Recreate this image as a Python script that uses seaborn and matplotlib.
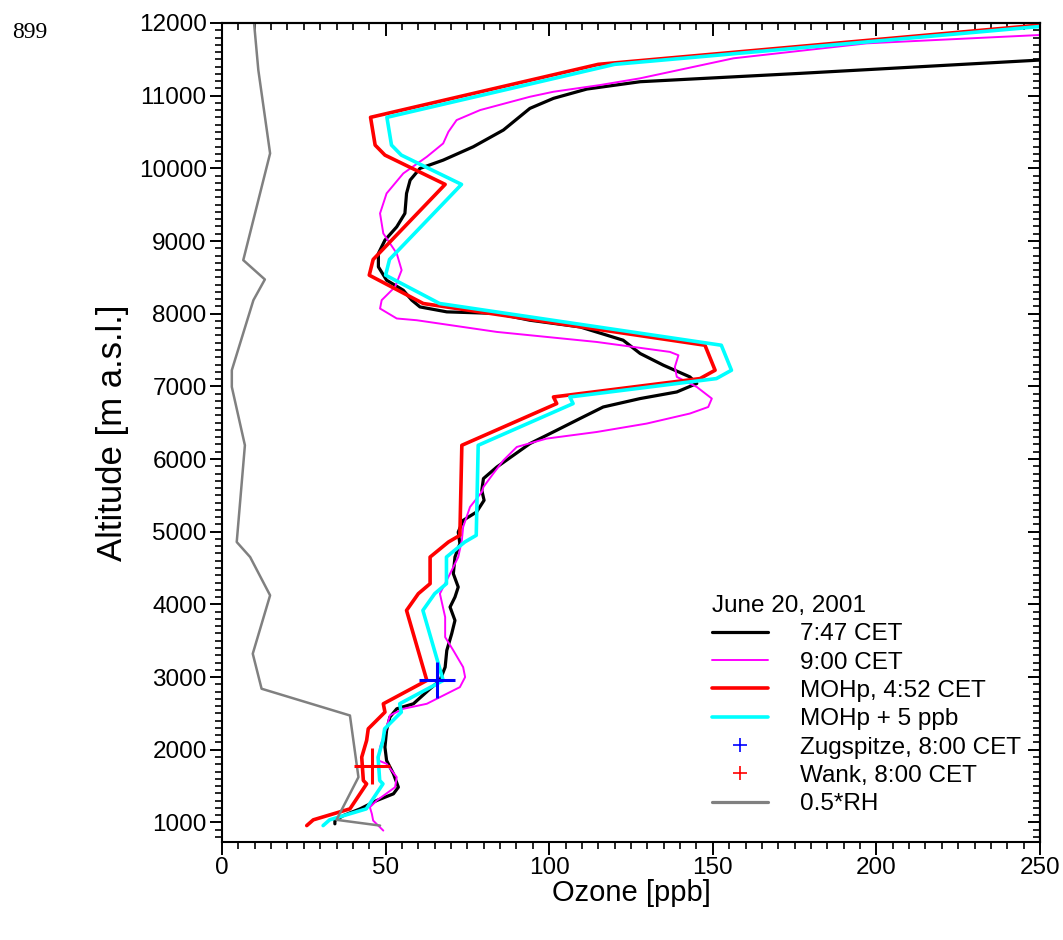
import numpy as np
import pandas as pd
import matplotlib
matplotlib.use("Agg")
import matplotlib.pyplot as plt
from matplotlib.lines import Line2D
from matplotlib.ticker import MultipleLocator, NullFormatter
import seaborn as sns

# ---- ozone soundings, June 20, 2001 (ozone in ppb, altitude in m a.s.l.) ----
sonde_0747_o3 = [34.5, 34.5, 37.1, 42.2, 47.3, 52.4, 53.9, 52.4, 50.3, 49.8, 50.3, 51.3,
                 53.4, 58.5, 63.6, 66.6, 68.2, 68.7, 70.2, 71.2, 69.7, 71.2, 72.2, 70.7,
                 71.2, 72.7, 72.2, 73.7, 77.8, 80.1, 79.4, 79.9, 84.0, 94.1, 102.3, 109.4,
                 116.5, 127.8, 139.0, 145.1, 143.0, 134.9, 127.8, 122.6, 109.4, 94.1, 84.0,
                 68.7, 60.5, 58.0, 55.4, 50.3, 47.8, 47.8, 49.8, 53.4, 55.9, 56.4, 57.5,
                 60.5, 67.6, 76.8, 86.0, 94.1, 101.3, 111.5, 127.8, 176.7, 250.0]
sonde_0747_alt = [980, 1025, 1094, 1186, 1301, 1393, 1484, 1668, 1852, 2035, 2265, 2448,
                  2563, 2632, 2839, 2953, 3136, 3366, 3596, 3779, 3963, 4100, 4238, 4422,
                  4651, 4835, 4995, 5156, 5271, 5432, 5569, 5731, 5890, 6212, 6396, 6557,
                  6716, 6832, 6923, 7039, 7130, 7291, 7452, 7635, 7818, 7910, 8003,
                  8025, 8093, 8186, 8323, 8461, 8644, 8829, 9012, 9195, 9380, 9655, 9838,
                  9999, 10113, 10297, 10527, 10825, 10963, 11091, 11192, 11307, 11490]

sonde_0900_o3 = [49.3, 46.2, 45.8, 45.2, 47.3, 52.9, 53.4, 50.3, 47.8, 48.3, 50.3, 51.3,
                 55.4, 62.6, 66.6, 72.7, 74.3, 73.7, 70.7, 68.2, 68.2, 66.6, 69.7, 72.2,
                 73.3, 73.7, 75.8, 79.4, 79.9, 82.9, 86.0, 90.1, 99.2, 114.5, 129.8, 143.0,
                 148.6, 149.7, 145.1, 139.0, 138.4, 139.5, 136.9, 114.5, 84.0, 59.5, 53.4,
                 48.3, 48.8, 52.9, 54.9, 53.4, 49.3, 48.3, 50.3, 55.4, 62.6, 67.6, 69.2,
                 71.7, 78.9, 94.1, 101.3, 115.5, 127.8, 156.3, 197.0, 250.0]
sonde_0900_alt = [887, 1025, 1117, 1209, 1301, 1484, 1622, 1806, 1852, 2035, 2310, 2471,
                  2563, 2632, 2723, 2861, 2999, 3136, 3366, 3549, 3825, 4147, 4422, 4651,
                  4881, 5064, 5340, 5546, 5615, 5799, 5982, 6166, 6281, 6372, 6488, 6626,
                  6716, 6832, 6992, 7130, 7267, 7428, 7474, 7611, 7749, 7910, 7934,
                  8071, 8186, 8369, 8599, 8829, 9104, 9380, 9655, 9930, 10159, 10343, 10503,
                  10664, 10802, 10985, 11054, 11146, 11239, 11514, 11720, 11835]

# ---- MOHp profile, 4:52 CET ----
mohp_o3 = [25.9, 27.9, 39.1, 44.2, 43.2, 42.7, 44.2, 44.7, 49.8, 49.3, 62.6, 56.4,
           60.0, 63.6, 63.6, 69.2, 72.7, 73.3, 102.3, 101.3, 146.1, 150.7, 147.6, 61.5,
           45.0, 46.2, 68.2, 49.8, 46.8, 45.4, 115.0, 250.0]
mohp_alt = [956, 1035, 1186, 1530, 1576, 1897, 2127, 2288, 2517, 2632, 2953, 3917,
            4147, 4285, 4651, 4858, 4950, 6189, 6763, 6854, 7107, 7222, 7566, 8140,
            8530, 8746, 9779, 10182, 10320, 10702, 11431, 11972]
mohp_offset_ppb = 5

# ---- relative humidity (scaled by 0.5) ----
rh_half = [48.3, 35.0, 41.7, 39.1, 12.1, 9.4, 14.7, 8.6, 4.5, 7.0, 3.0, 3.0,
           9.6, 13.1, 6.5, 14.7, 11.1, 9.8]
rh_alt = [956, 1035, 1622, 2471, 2839, 3321, 4124, 4651, 4858, 6189, 6992, 7222,
          8186, 8471, 8737, 10206, 11353, 12000]

# ---- mountain station observations at 8:00 CET ----
zugspitze_o3, zugspitze_alt = [65.6], [2962]
wank_o3, wank_alt = [45.7], [1780]

legend_title = "June 20, 2001"
labels = ["7:47 CET", "9:00 CET", "MOHp, 4:52 CET", "MOHp + 5 ppb",
          "Zugspitze, 8:00 CET", "Wank, 8:00 CET", "0.5*RH"]

# ---------------------------------------------------------------------------
sns.set_theme(style="ticks")
plt.rcParams["font.family"] = ["Liberation Sans", "DejaVu Sans"]
plt.rcParams["text.color"] = "black"
plt.rcParams["axes.labelcolor"] = "black"
plt.rcParams["xtick.color"] = "black"
plt.rcParams["ytick.color"] = "black"

fig = plt.figure(figsize=(10.63, 9.4), dpi=100)
ax = fig.add_axes([222 / 1063, 1 - 842 / 940, 818 / 1063, 819 / 940])

mohp_plus = [v + mohp_offset_ppb for v in mohp_o3]

def profile(xs, ys, color, lw):
    df = pd.DataFrame({"o3": xs, "alt": ys})
    sns.lineplot(data=df, x="o3", y="alt", sort=False, estimator=None,
                 color=color, linewidth=lw, ax=ax)

profile(sonde_0747_o3, sonde_0747_alt, "#000000", 2.3)
profile(sonde_0900_o3, sonde_0900_alt, "#ff00ff", 1.4)
profile(mohp_o3, mohp_alt, "#ff0000", 2.6)
profile(mohp_plus, mohp_alt, "#00ffff", 2.6)

sns.scatterplot(x=zugspitze_o3, y=zugspitze_alt, marker="+", s=700,
                color="#0000ff", linewidth=2.2, ax=ax, zorder=5)
sns.scatterplot(x=wank_o3, y=wank_alt, marker="+", s=700,
                color="#ff0000", linewidth=2.2, ax=ax, zorder=5)

profile(rh_half, rh_alt, "#808080", 1.8)

ax.set_xlim(0, 250)
ax.set_ylim(730, 12000)

ax.xaxis.set_major_locator(MultipleLocator(50))
ax.xaxis.set_minor_locator(MultipleLocator(5))
ax.set_yticks(np.arange(1000, 12001, 1000))
ax.yaxis.set_minor_locator(MultipleLocator(100))

tick_fs = 17.5
ax.tick_params(axis="both", which="major", direction="out", length=9, width=1.4,
               labelsize=tick_fs, pad=2, color="black", labelcolor="black")
ax.tick_params(axis="both", which="minor", direction="out", length=5, width=1.2,
               color="black")

# mirrored inward ticks on top and right
top = ax.secondary_xaxis("top")
top.xaxis.set_major_locator(MultipleLocator(50))
top.xaxis.set_minor_locator(MultipleLocator(5))
top.xaxis.set_major_formatter(NullFormatter())
top.tick_params(which="major", direction="in", length=9, width=1.4, color="black")
top.tick_params(which="minor", direction="in", length=5, width=1.2, color="black")
right = ax.secondary_yaxis("right")
right.set_yticks(np.arange(1000, 12001, 1000))
right.yaxis.set_minor_locator(MultipleLocator(100))
right.yaxis.set_major_formatter(NullFormatter())
right.tick_params(which="major", direction="in", length=9, width=1.4, color="black")
right.tick_params(which="minor", direction="in", length=5, width=1.2, color="black")
for sec in (top, right):
    for sp in sec.spines.values():
        sp.set_linewidth(1.5)
        sp.set_color("black")

for sp in ax.spines.values():
    sp.set_visible(True)
    sp.set_linewidth(1.5)
    sp.set_color("black")

ax.set_xlabel("Ozone [ppb]", fontsize=21, labelpad=0, color="black")
ax.set_ylabel("Altitude [m a.s.l.]", fontsize=25, labelpad=7, color="black")

handles = [
    Line2D([], [], color="#000000", lw=2.3),
    Line2D([], [], color="#ff00ff", lw=1.4),
    Line2D([], [], color="#ff0000", lw=2.6),
    Line2D([], [], color="#00ffff", lw=2.6),
    Line2D([], [], color="#0000ff", lw=0, marker="+", markersize=10, markeredgewidth=1.2),
    Line2D([], [], color="#ff0000", lw=0, marker="+", markersize=10, markeredgewidth=1.2),
    Line2D([], [], color="#808080", lw=2.3),
]
leg = ax.legend(handles, labels, title=legend_title, loc="upper left",
                bbox_to_anchor=(0.5917, 0.309), frameon=False, fontsize=tick_fs,
                title_fontsize=tick_fs, alignment="left", borderpad=0.25,
                borderaxespad=0, handlelength=2.3, handletextpad=1.3,
                labelspacing=0.26)
for t in leg.get_texts():
    t.set_color("black")
leg.get_title().set_color("black")

fig.text(12 / 1063, 1 - 38 / 940, "899", fontsize=17, family="Liberation Serif",
         color="black")

fig.savefig("out.png", dpi=100, facecolor="white")
